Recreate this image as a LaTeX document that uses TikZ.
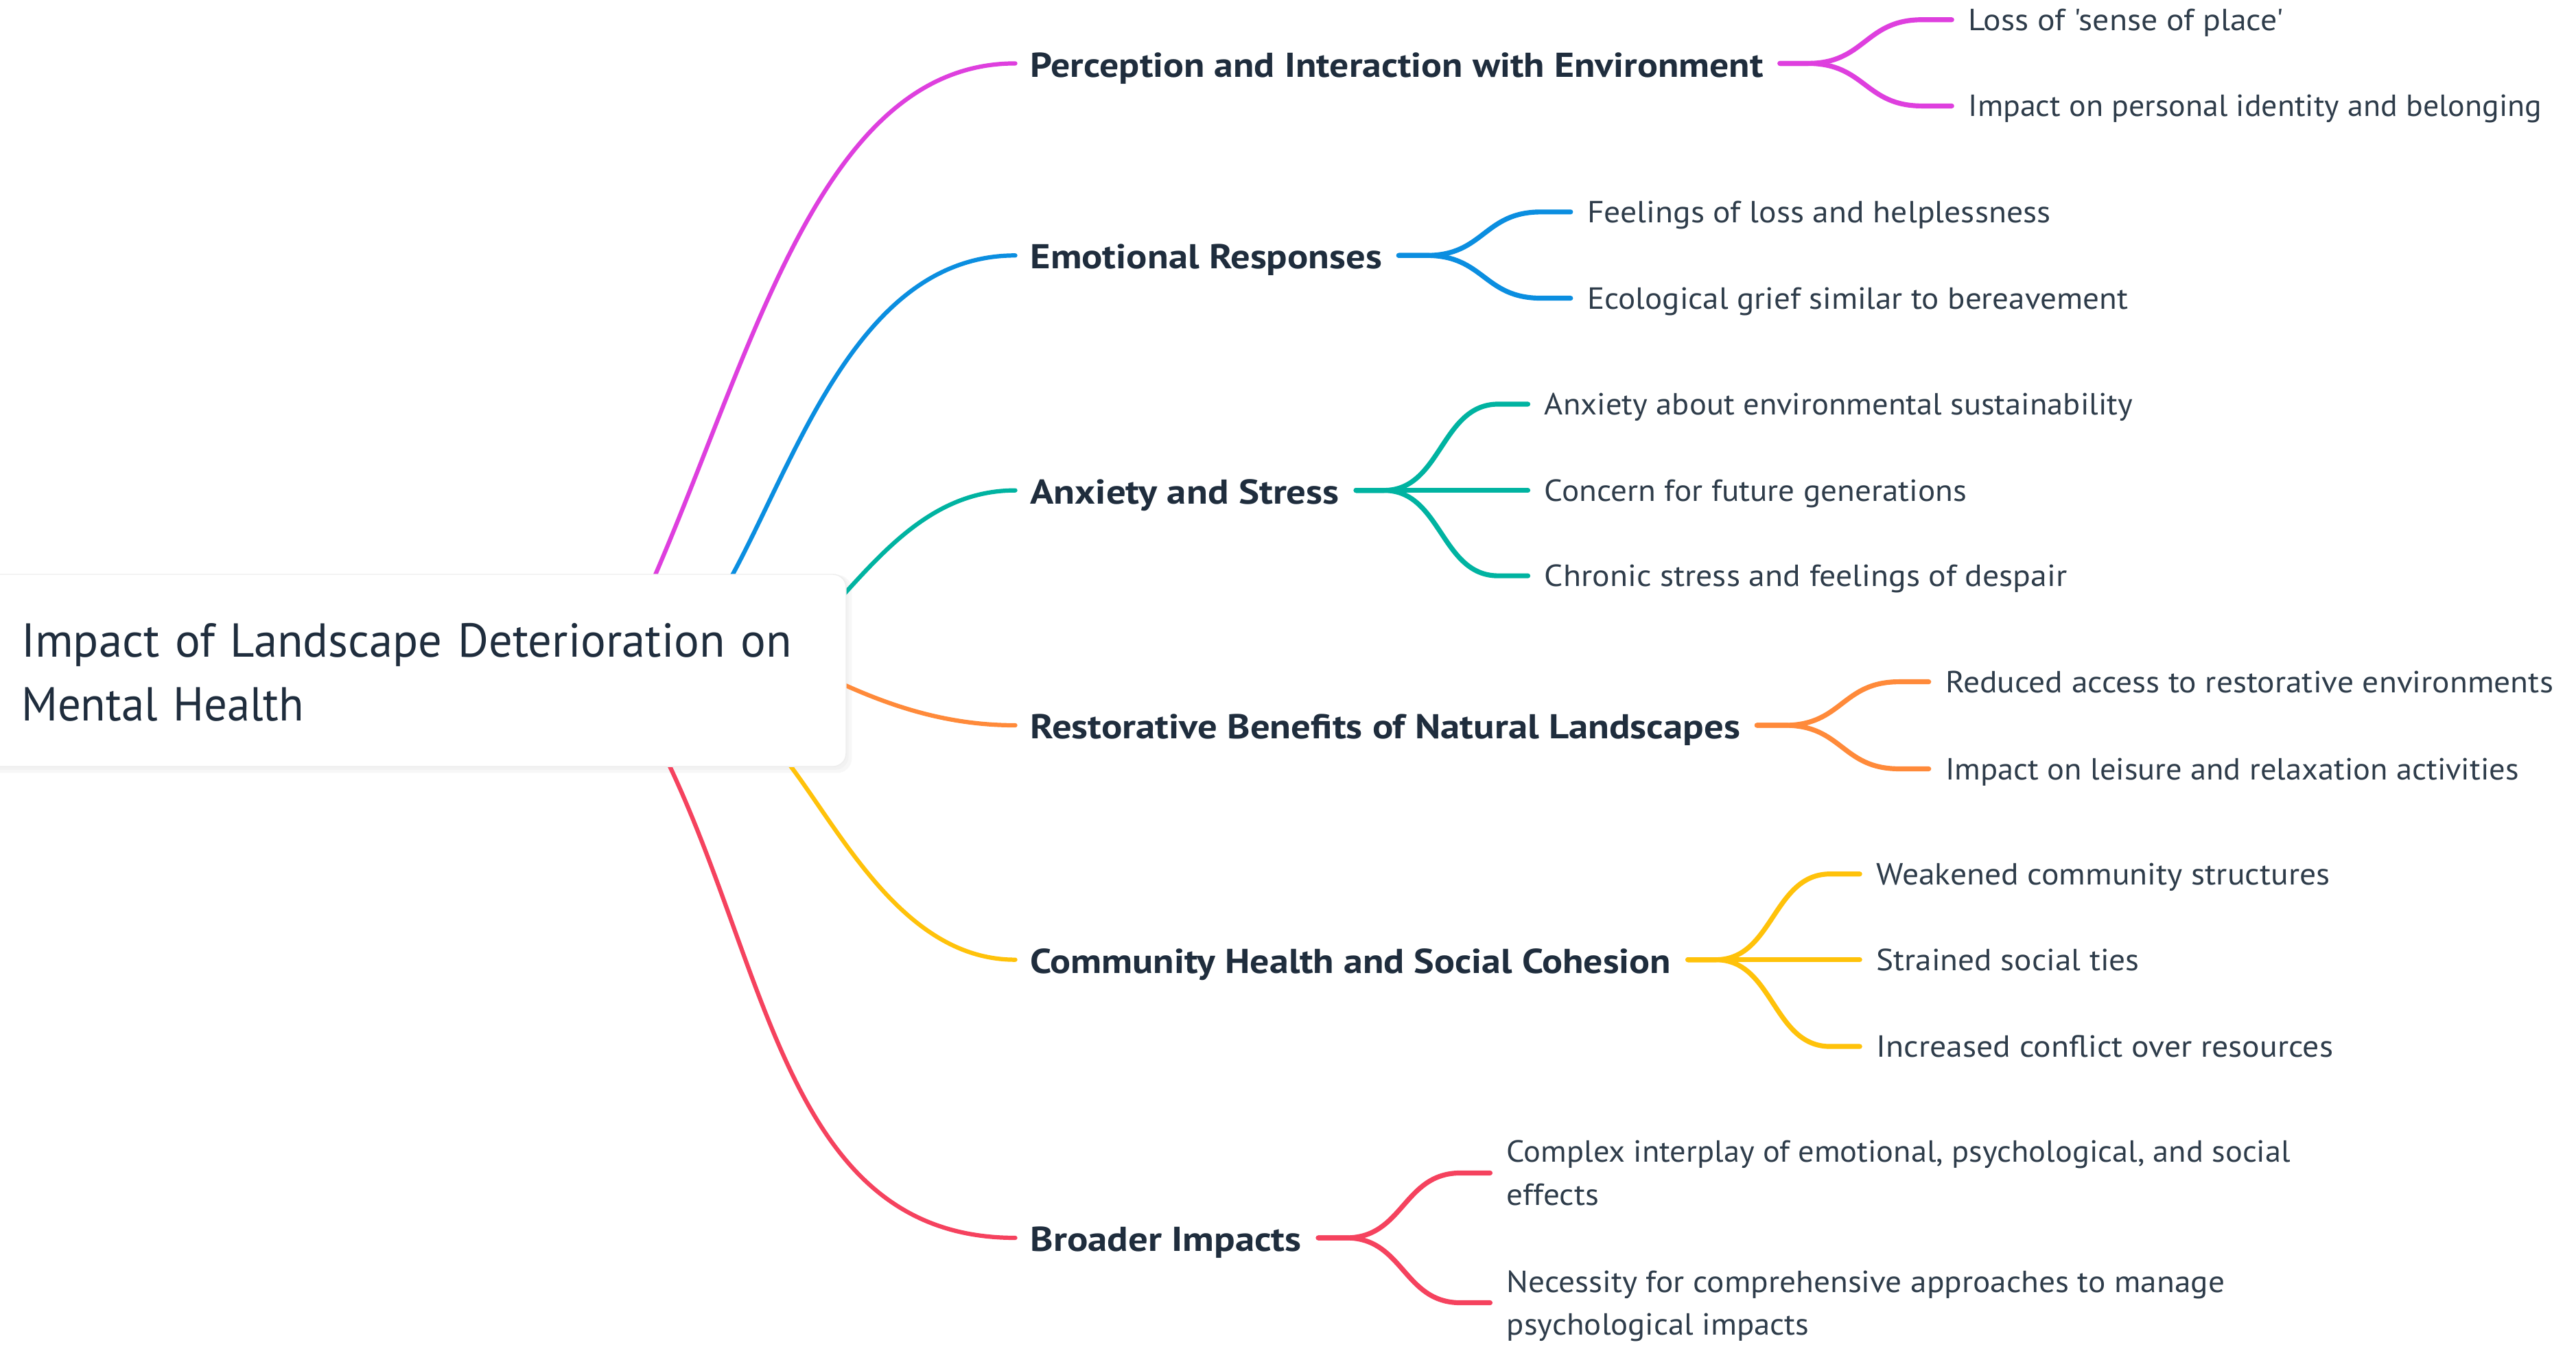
\documentclass[tikz,border=0pt]{standalone}
\usepackage{fontspec}
\setmainfont{PT Sans}[Ligatures=TeXOff]
\usepackage{graphicx}
\usetikzlibrary{calc}
\definecolor{cmag}{HTML}{DE3FDE}
\definecolor{cblue}{HTML}{0B8EE0}
\definecolor{cteal}{HTML}{00B3A1}
\definecolor{corange}{HTML}{FF8A3A}
\definecolor{cyellow}{HTML}{FFC20A}
\definecolor{cred}{HTML}{F5425E}
\definecolor{ctext}{HTML}{1F2D3D}
\definecolor{cleaf}{HTML}{2E3C4A}
\newcommand\fitw[2]{\resizebox{#1pt}{\height}{#2}}
\newcommand\bstr{\rule[-2pt]{0pt}{22.6pt}}
\newcommand\lstr{\rule[-6.5pt]{0pt}{26pt}}
\newcommand\rstr{\rule[-8.35pt]{0pt}{39pt}}
\newcommand\leafcurve[3]{\draw[subline=#1] ([xshift=10pt]#2.east) -- ++(17,0) .. controls +(35,0) and +(-35,0) .. ([xshift=-28pt]#3.west) -- ([xshift=-10pt]#3.west);}
\newcommand\leafstraight[3]{\draw[subline=#1] ([xshift=10pt]#2.east) -- ([xshift=-10pt]#3.west);}
\tikzset{
  mainline/.style={line width=2.6pt, line cap=round, draw=#1},
  subline/.style={line width=3pt, line cap=round, line join=round, draw=#1},
  branch/.style={inner sep=0pt, anchor=west, text=ctext, font=\fontsize{21}{26}\selectfont\bfseries},
  leaf/.style={inner sep=0pt, anchor=west, text=cleaf, font=\fontsize{18.6}{26}\selectfont, align=left},
  rootbox/.style={rounded corners=8pt, fill=white, draw=black!7, line width=0.6pt,
    minimum width=525pt, minimum height=117pt, inner xsep=23pt, inner ysep=0pt,
    text width=479pt, align=left, text=ctext, font=\fontsize{29}{39}\selectfont}
}
\begin{document}
\begin{tikzpicture}[x=1pt,y=-1pt]
\useasboundingbox (0,0) rectangle (1568,827.44);
\fill[white] (0,0) rectangle (1568,827.44);

% branch nodes
\node[branch] (b1) at (627,38.6) {\bstr\fitw{446}{Perception and Interaction with Environment}};
\node[branch] (b2) at (627,155.5) {\bstr\fitw{214}{Emotional Responses}};
\node[branch] (b3) at (627,298.5) {\bstr\fitw{188}{Anxiety and Stress}};
\node[branch] (b4) at (627,441.5) {\bstr\fitw{432}{Restorative Benefits of Natural Landscapes}};
\node[branch] (b5) at (627,584.2) {\bstr\fitw{390}{Community Health and Social Cohesion}};
\node[branch] (b6) at (627,753.5) {\bstr\fitw{165}{Broader Impacts}};

% leaf nodes
\node[leaf] (l11) at (1198,12) {\lstr\fitw{192}{Loss of 'sense of place'}};
\node[leaf] (l12) at (1198,64.5) {\lstr\fitw{349}{Impact on personal identity and belonging}};
\node[leaf] (l21) at (966,129) {\lstr\fitw{282}{Feelings of loss and helplessness}};
\node[leaf] (l22) at (966,181.5) {\lstr\fitw{329}{Ecological grief similar to bereavement}};
\node[leaf] (l31) at (940,246) {\lstr\fitw{358}{Anxiety about environmental sustainability}};
\node[leaf] (l32) at (940,298.5) {\lstr\fitw{257}{Concern for future generations}};
\node[leaf] (l33) at (940,350.5) {\lstr\fitw{318}{Chronic stress and feelings of despair}};
\node[leaf] (l41) at (1184,415) {\lstr\fitw{370}{Reduced access to restorative environments}};
\node[leaf] (l42) at (1184,468) {\lstr\fitw{349}{Impact on leisure and relaxation activities}};
\node[leaf] (l51) at (1142,532) {\lstr\fitw{276}{Weakened community structures}};
\node[leaf] (l52) at (1142,584.2) {\lstr\fitw{160}{Strained social ties}};
\node[leaf] (l53) at (1142,637) {\lstr\fitw{278}{Increased conflict over resources}};
\node[leaf] (l61) at (917,714) {\lstr\fitw{477}{Complex interplay of emotional, psychological, and social}\\\lstr\fitw{56}{effects}};
\node[leaf] (l62) at (917,793) {\lstr\fitw{437}{Necessity for comprehensive approaches to manage}\\\lstr\fitw{184}{psychological impacts}};

% root shadow
\fill[black!3, rounded corners=9pt] (-12,350) rectangle (518.5,470.5);
\fill[black!5, rounded corners=8pt] (-11,350) rectangle (516.5,468.5);

% main connectors (start points hidden behind the root box)
\coordinate (s1) at (397,354.2);
\coordinate (s2) at (443.6,354);
\coordinate (s3) at (509.6,366.3);
\coordinate (s4) at (508.5,414.4);
\coordinate (s5) at (478.7,463);
\coordinate (s6) at (405.8,462.5);
\draw[mainline=cmag] (s1) .. controls (459,212) and (500,38.6) .. ([xshift=-9pt]b1.west);
\draw[mainline=cblue] (s2) .. controls (484.8,279.7) and (522,155.5) .. ([xshift=-9pt]b2.west);
\draw[mainline=cteal] (s3) .. controls (539.8,333) and (570,298.5) .. ([xshift=-9pt]b3.west);
\draw[mainline=corange] (s4) .. controls (540,429) and (575,441.5) .. ([xshift=-9pt]b4.west);
\draw[mainline=cyellow] (s5) .. controls (512.2,506.5) and (550,584.2) .. ([xshift=-9pt]b5.west);
\draw[mainline=cred] (s6) .. controls (468.6,593) and (480,753.5) .. ([xshift=-9pt]b6.west);

% leaf connectors
\leafcurve{cmag}{b1}{l11}
\leafcurve{cmag}{b1}{l12}
\leafcurve{cblue}{b2}{l21}
\leafcurve{cblue}{b2}{l22}
\leafcurve{cteal}{b3}{l31}
\leafstraight{cteal}{b3}{l32}
\leafcurve{cteal}{b3}{l33}
\leafcurve{corange}{b4}{l41}
\leafcurve{corange}{b4}{l42}
\leafcurve{cyellow}{b5}{l51}
\leafstraight{cyellow}{b5}{l52}
\leafcurve{cyellow}{b5}{l53}
\leafcurve{cred}{b6}{l61}
\leafcurve{cred}{b6}{l62}

% root node
\node[rootbox] (root) at (252.5,408.1) {\rstr\fitw{469}{Impact of Landscape Deterioration on}\\\rstr\fitw{172}{Mental Health}};
\end{tikzpicture}
\end{document}
